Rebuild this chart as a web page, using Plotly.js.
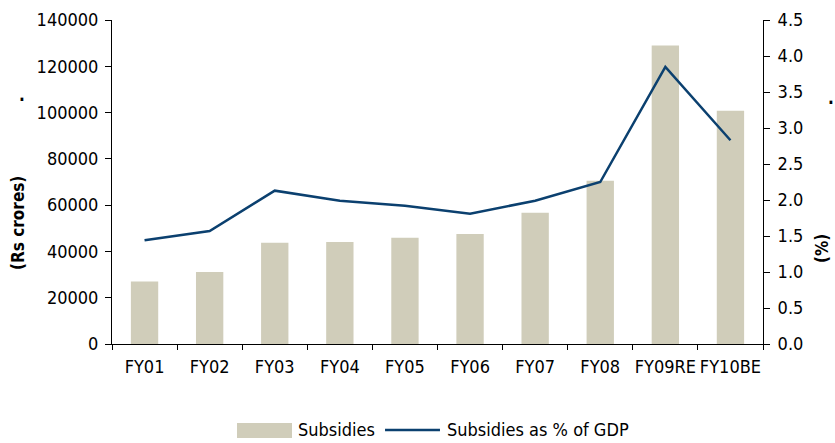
<!DOCTYPE html>
<html>
<head>
<meta charset="utf-8">
<script src="https://cdn.plot.ly/plotly-3.0.1.min.js"></script>
<style>html,body{margin:0;padding:0;background:#fff;}#chart{width:835px;height:443px;}</style>
</head>
<body>
<div id="chart"></div>
<script>
var categories = ["FY01","FY02","FY03","FY04","FY05","FY06","FY07","FY08","FY09RE","FY10BE"];
var subsidies = [27000, 31100, 43700, 44100, 45900, 47500, 56700, 70500, 129000, 100800];
var pctGDP = [1.44, 1.57, 2.13, 1.99, 1.92, 1.81, 1.99, 2.25, 3.85, 2.83];
var leftTicks = [0, 20000, 40000, 60000, 80000, 100000, 120000, 140000];
var rightTicks = [0, 0.5, 1.0, 1.5, 2.0, 2.5, 3.0, 3.5, 4.0, 4.5];
var seriesNames = ["Subsidies", "Subsidies as % of GDP"];

var FONT = "DejaVu Sans Condensed, sans-serif";
var BAR_COLOR = "#D0CDBA";
var LINE_COLOR = "#0B406F";

var traces = [
  {
    type: "bar", name: seriesNames[0], x: categories, y: subsidies,
    marker: {color: BAR_COLOR}, yaxis: "y", showlegend: false
  },
  {
    type: "scatter", mode: "lines", name: seriesNames[1],
    x: categories, y: pctGDP, yaxis: "y2", showlegend: false,
    line: {color: LINE_COLOR, width: 2.5}
  }
];

var layout = {
  width: 835, height: 443,
  margin: {l: 112, r: 72, t: 20, b: 99},
  paper_bgcolor: "#fff", plot_bgcolor: "#fff",
  font: {family: FONT, size: 17, color: "#000"},
  bargap: 0.58,
  showlegend: false,
  xaxis: {
    type: "category", showgrid: false, zeroline: false, automargin: false,
    showline: true, linecolor: "#000", linewidth: 1, tickangle: 0,
    ticks: "outside", tickson: "boundaries", ticklen: 5, tickcolor: "#000",
    ticklabelstandoff: 6,
    tickfont: {family: FONT, size: 18}
  },
  yaxis: {
    range: [0, 140000], tickvals: leftTicks, ticktext: leftTicks.map(String),
    showgrid: false, zeroline: false, automargin: false,
    showline: true, linecolor: "#000", linewidth: 1,
    ticks: "outside", ticklen: 6, tickcolor: "#000", ticklabelstandoff: 3,
    tickfont: {family: FONT, size: 18}
  },
  yaxis2: {
    overlaying: "y", side: "right", range: [0, 4.5], automargin: false,
    tickvals: rightTicks, ticktext: rightTicks.map(function(v){return v.toFixed(1);}),
    showgrid: false, zeroline: false,
    showline: true, linecolor: "#000", linewidth: 1,
    ticks: "outside", ticklen: 6, tickcolor: "#000", ticklabelstandoff: 4,
    tickfont: {family: FONT, size: 18}
  },
  shapes: [
    {type: "rect", xref: "paper", yref: "paper", x0: 0.192, x1: 0.2765, y0: -0.290, y1: -0.2438,
     fillcolor: BAR_COLOR, line: {width: 0}},
    {type: "line", xref: "paper", yref: "paper", x0: 0.4194, x1: 0.5038, y0: -0.2654, y1: -0.2654,
     line: {color: LINE_COLOR, width: 2.5}}
  ],
  annotations: [
    {xref: "paper", yref: "paper", x: -0.1444, y: 0.3735, xanchor: "center", yanchor: "middle",
     textangle: -90, text: "<b>(Rs crores)</b>", showarrow: false, font: {family: FONT, size: 17}},
    {xref: "paper", yref: "paper", x: 1.0906, y: 0.2963, xanchor: "center", yanchor: "middle",
     textangle: -90, text: "<b>(%)</b>", showarrow: false, font: {family: FONT, size: 17}},
    {xref: "paper", yref: "paper", x: -0.138, y: 0.7685, xanchor: "center", yanchor: "middle",
     text: "<b>.</b>", showarrow: false, font: {family: FONT, size: 17}},
    {xref: "paper", yref: "paper", x: 1.104, y: 0.759, xanchor: "center", yanchor: "middle",
     text: "<b>.</b>", showarrow: false, font: {family: FONT, size: 17}},
    {xref: "paper", yref: "paper", x: 0.2826, y: -0.2654, xanchor: "left", yanchor: "middle",
     text: seriesNames[0], showarrow: false, font: {family: FONT, size: 18}},
    {xref: "paper", yref: "paper", x: 0.5115, y: -0.2654, xanchor: "left", yanchor: "middle",
     text: seriesNames[1], showarrow: false, font: {family: FONT, size: 18}}
  ]
};

Plotly.newPlot("chart", traces, layout, {displayModeBar: false, staticPlot: true});
</script>
</body>
</html>
